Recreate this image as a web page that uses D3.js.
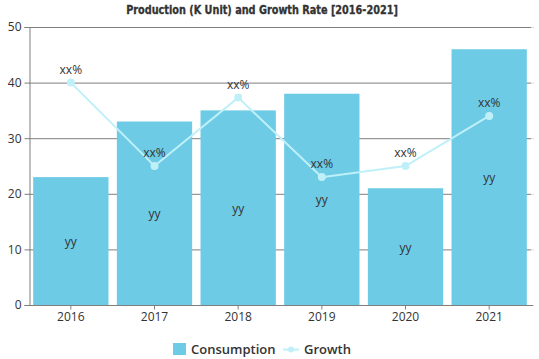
<!DOCTYPE html>
<html><head><meta charset="utf-8">
<script src="https://cdn.jsdelivr.net/npm/d3@7"></script>
<style>body{margin:0;background:#fff}svg{display:block}</style>
</head><body><svg id="c" width="539" height="359"></svg>
<script>
const categories = ["2016","2017","2018","2019","2020","2021"];
const consumption = [23, 33, 35, 38, 21, 46];
const growth = [40, 25, 37.3, 23, 25, 34];
const barLabels = ["yy","yy","yy","yy","yy","yy"];
const growthLabels = ["xx%","xx%","xx%","xx%","xx%","xx%"];
const yTicks = [0,10,20,30,40,50];
const title = "Production (K Unit) and Growth Rate [2016-2021]";

(function(){
const svg = d3.select("#c");
const mL = 29, mR = 531, mT = 27, mB = 305;
const x = d3.scaleBand().domain(categories).range([mL, mR]).paddingInner(0.1).paddingOuter(0.05);
const y = d3.scaleLinear().domain([0,50]).range([mB, mT]);
const font = "'Open Sans', sans-serif";

svg.append("text").attr("x", 262).attr("y", 14).attr("text-anchor","middle")
  .attr("font-family","'DejaVu Sans Condensed', sans-serif").attr("font-weight","bold")
  .attr("font-size", 12).attr("fill","#333").attr("stroke","#333").attr("stroke-width",0.3)
  .attr("transform","translate(262,0) scale(0.9,1) translate(-262,0)").text(title);

svg.append("g").selectAll("line").data(yTicks.filter(d=>d>0)).join("line")
  .attr("x1", mL).attr("x2", mR).attr("y1", d=>y(d)+0.5).attr("y2", d=>y(d)+0.5)
  .attr("stroke","#7f7f7f").attr("stroke-width",1);

const ya = svg.append("g").attr("transform",`translate(${mL+0.5},0)`)
  .call(d3.axisLeft(y).tickValues(yTicks).tickSize(5).tickPadding(3));
ya.select(".domain").attr("stroke","#7f7f7f");
ya.selectAll(".tick line").attr("stroke","#7f7f7f");
ya.selectAll("text").attr("font-family",font).attr("font-size",12).attr("fill","#333");

const yr = svg.append("g").attr("transform",`translate(${mR},0)`)
  .call(d3.axisRight(y).tickValues(yTicks).tickSize(3).tickFormat(""));
yr.select(".domain").remove();
yr.selectAll(".tick line").attr("stroke","#ddd");

svg.append("g").selectAll("rect").data(consumption).join("rect")
  .attr("x",(d,i)=>x(categories[i])).attr("width",x.bandwidth())
  .attr("y",d=>y(d)).attr("height",d=>y(0)-y(d)).attr("fill","#6dcbe6");

svg.append("g").selectAll("text").data(consumption).join("text")
  .attr("x",(d,i)=>x(categories[i])+x.bandwidth()/2).attr("y",d=>(y(d)+y(0))/2+5)
  .attr("text-anchor","middle").attr("font-family",font).attr("font-size",12).attr("fill","#333")
  .text((d,i)=>barLabels[i]);

const xa = svg.append("g").attr("transform",`translate(0,${mB+0.5})`)
  .call(d3.axisBottom(x).tickSize(4).tickPadding(3));
xa.select(".domain").attr("stroke","#7f7f7f").attr("d",`M${mL},0H${mR+2}`);
xa.selectAll(".tick line").attr("stroke","#7f7f7f");
xa.selectAll("text").attr("font-family",font).attr("font-size",12).attr("fill","#333");

const cx = (i)=>x(categories[i])+x.bandwidth()/2;
const line = d3.line().x((d,i)=>cx(i)).y(d=>y(d));
svg.append("path").datum(growth).attr("d",line).attr("fill","none")
  .attr("stroke","#bff0f8").attr("stroke-width",2);
svg.append("g").selectAll("circle").data(growth).join("circle")
  .attr("cx",(d,i)=>cx(i)).attr("cy",d=>y(d)).attr("r",4).attr("fill","#bff0f8");
svg.append("g").selectAll("text").data(growth).join("text")
  .attr("x",(d,i)=>cx(i)).attr("y",d=>y(d)-9)
  .attr("text-anchor","middle").attr("font-family",font).attr("font-size",12).attr("fill","#333")
  .text((d,i)=>growthLabels[i]);

const lg = svg.append("g");
lg.append("rect").attr("x",173).attr("y",343).attr("width",13).attr("height",12).attr("fill","#6dcbe6");
lg.append("text").attr("x",191).attr("y",354).attr("font-family",font).attr("font-weight",600)
  .attr("font-size",13).attr("fill","#333").text("Consumption");
lg.append("line").attr("x1",283).attr("x2",299).attr("y1",349.5).attr("y2",349.5).attr("stroke","#bff0f8").attr("stroke-width",2);
lg.append("circle").attr("cx",291).attr("cy",349.5).attr("r",3).attr("fill","#bff0f8");
lg.append("text").attr("x",304).attr("y",354).attr("font-family",font).attr("font-weight",600)
  .attr("font-size",13).attr("fill","#333").text("Growth");
})();
</script></body></html>
